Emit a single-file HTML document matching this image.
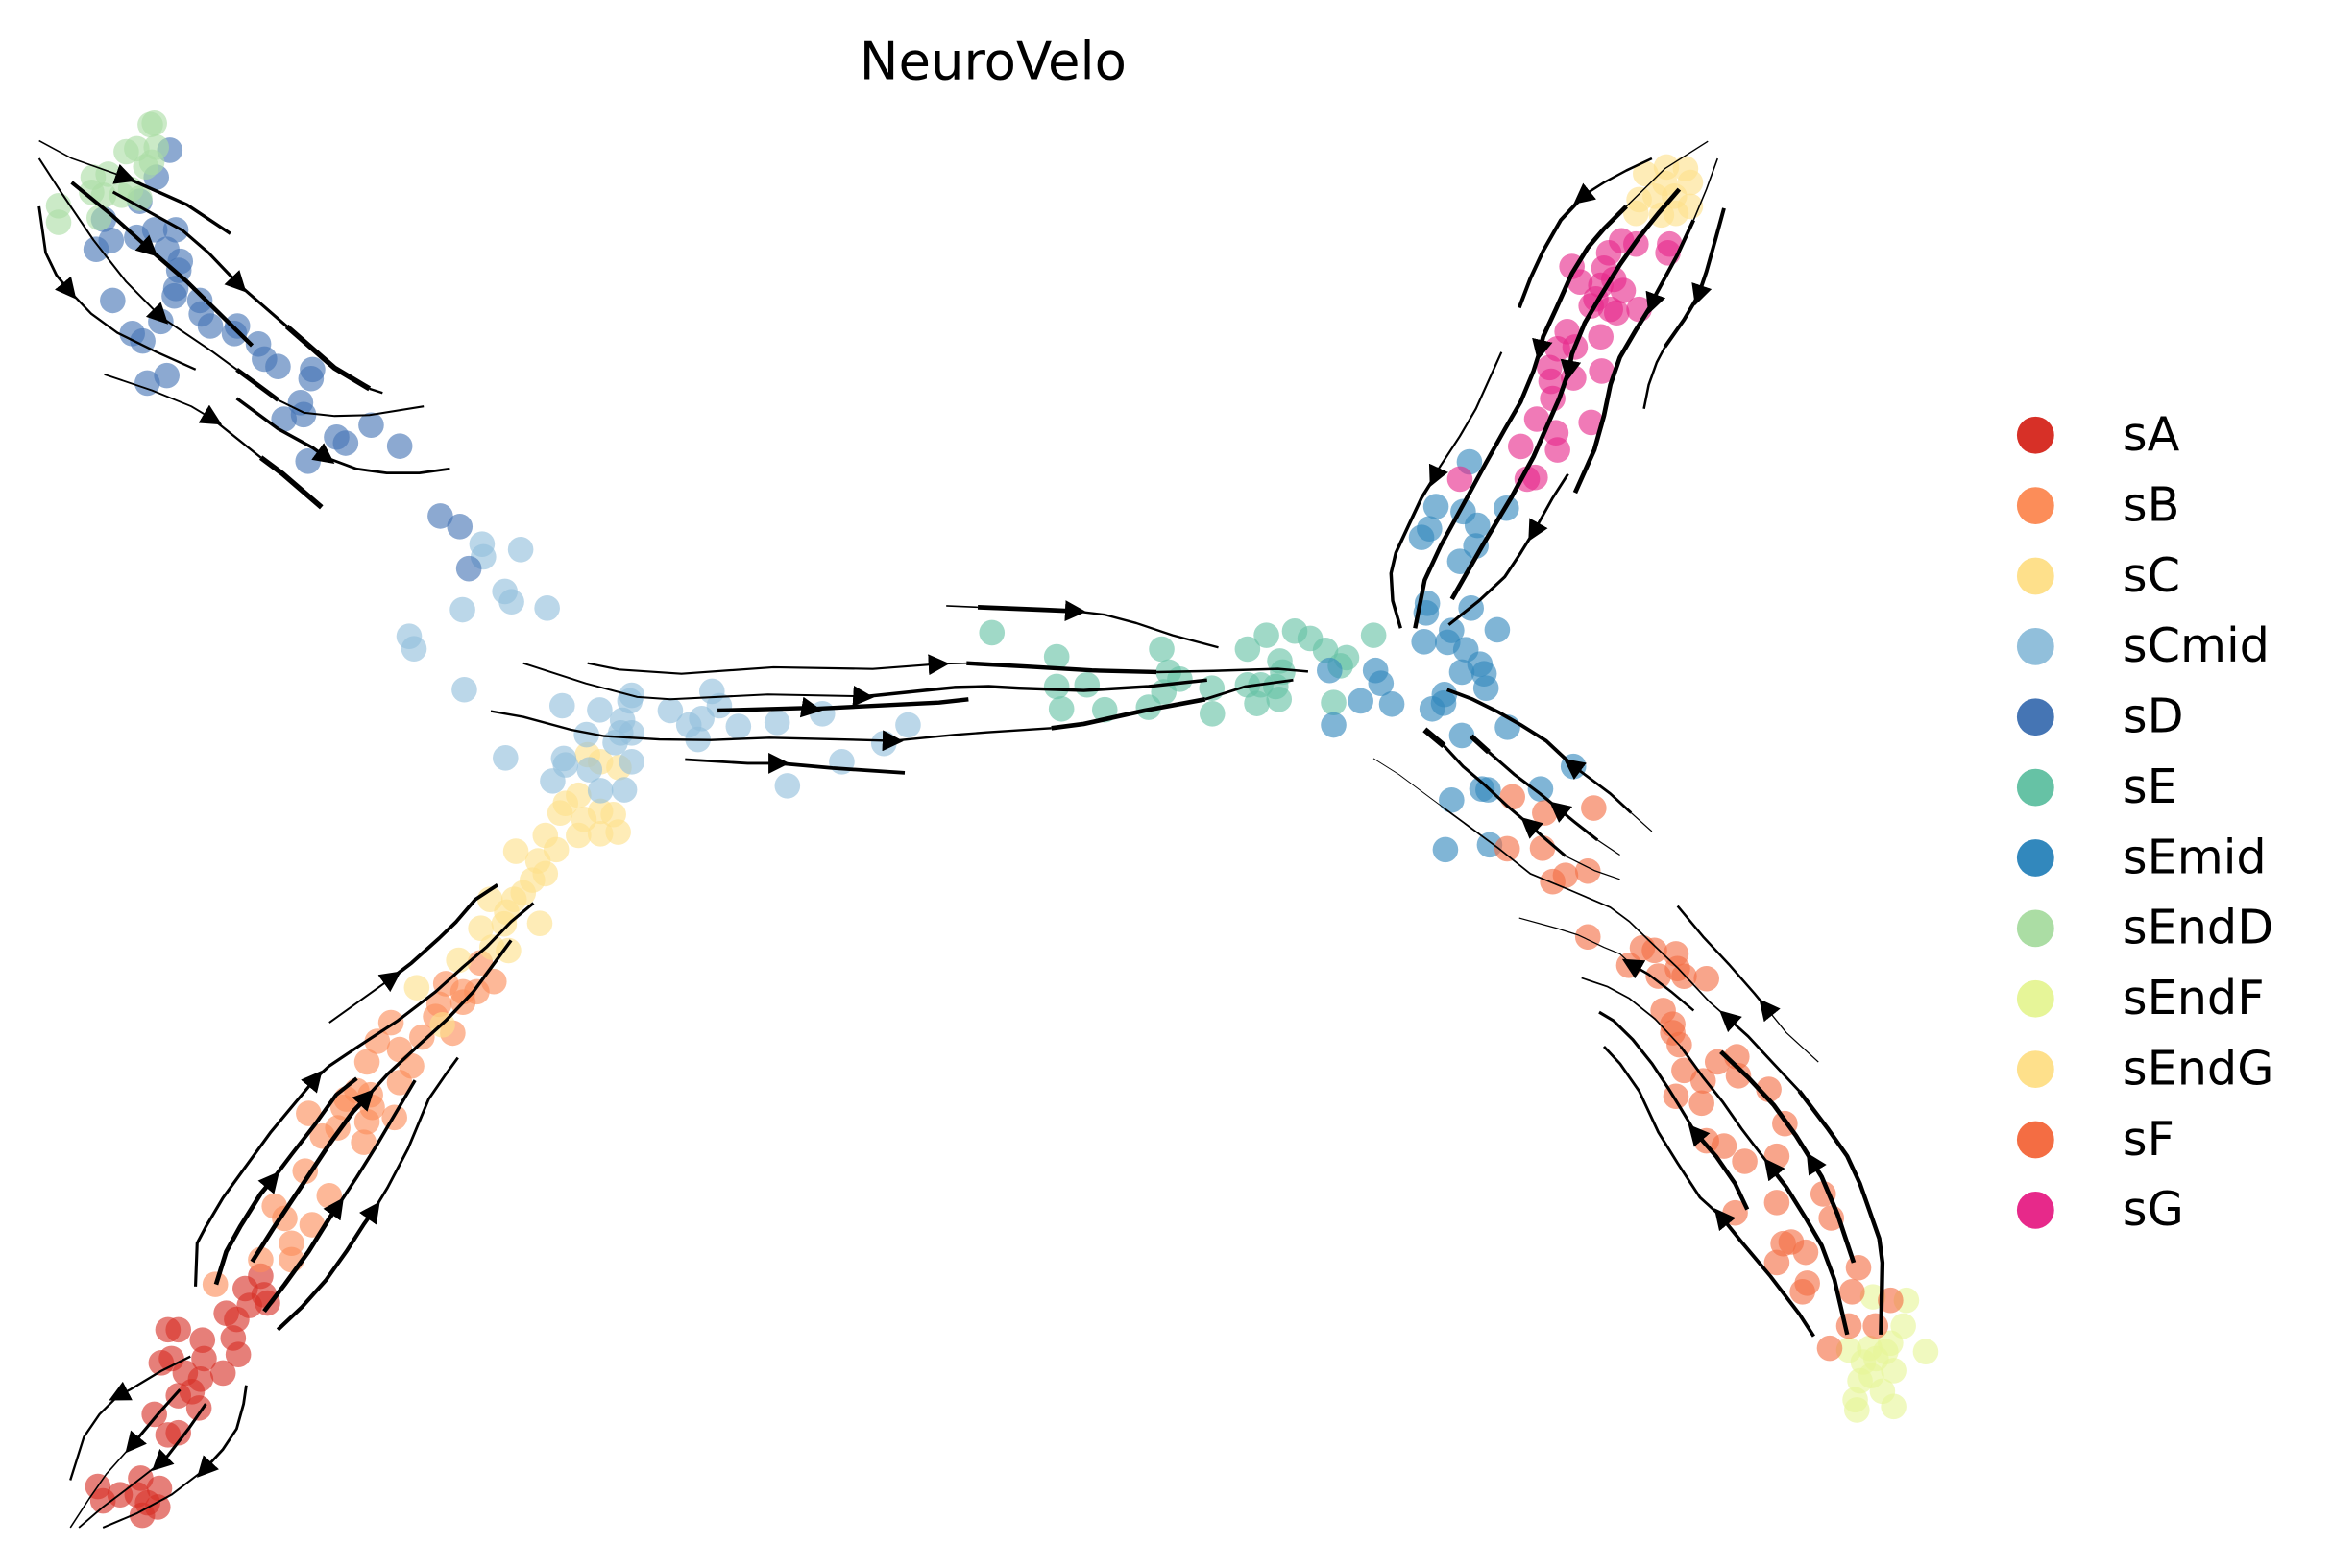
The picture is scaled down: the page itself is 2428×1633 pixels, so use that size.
<!DOCTYPE html>
<html><head><meta charset="utf-8"><style>
html,body{margin:0;padding:0;background:#fff;}
svg{display:block;}
.s path{fill:none;stroke:#000;stroke-linejoin:round;stroke-linecap:butt;}
</style></head><body>
<svg xmlns="http://www.w3.org/2000/svg" width="2428" height="1633" viewBox="0 0 1551.9 1043.8" preserveAspectRatio="none">
<defs><marker id="h" viewBox="0 0 14 14" refX="7" refY="7" markerWidth="14" markerHeight="14" markerUnits="userSpaceOnUse" orient="auto"><path d="M0,0L14,7L0,14z" fill="#000"/></marker></defs>
<rect width="1551.9" height="1043.8" fill="#fff"/>
<text x="660.8" y="52.6" font-family="DejaVu Sans, Liberation Sans, sans-serif" font-size="34.8" text-anchor="middle" fill="#000">NeuroVelo</text>

<!-- sA -->
<g fill="#d73027" fill-opacity="0.62">
<circle cx="175.8" cy="861.9" r="8.5"/><circle cx="178" cy="867.4" r="8.5"/><circle cx="163.2" cy="857.8" r="8.5"/><circle cx="173.5" cy="849.5" r="8.5"/><circle cx="157.5" cy="878.3" r="8.5"/><circle cx="150.6" cy="874.2" r="8.5"/><circle cx="155.2" cy="890.7" r="8.5"/><circle cx="158.6" cy="901.7" r="8.5"/><circle cx="148.4" cy="914" r="8.5"/><circle cx="134.7" cy="892.1" r="8.5"/><circle cx="135.8" cy="904.4" r="8.5"/><circle cx="118.7" cy="885.2" r="8.5"/><circle cx="111.8" cy="885.2" r="8.5"/><circle cx="107.3" cy="907.2" r="8.5"/><circle cx="114.1" cy="904.4" r="8.5"/><circle cx="123.3" cy="914" r="8.5"/><circle cx="133.5" cy="918.1" r="8.5"/><circle cx="127.8" cy="926.4" r="8.5"/><circle cx="118.7" cy="929.1" r="8.5"/><circle cx="132.4" cy="937.3" r="8.5"/><circle cx="102.7" cy="941.5" r="8.5"/><circle cx="111.8" cy="955.2" r="8.5"/><circle cx="118.7" cy="953.8" r="8.5"/><circle cx="65.1" cy="989.5" r="8.5"/><circle cx="68.5" cy="999.1" r="8.5"/><circle cx="79.9" cy="995" r="8.5"/><circle cx="93.6" cy="984" r="8.5"/><circle cx="106.1" cy="990.8" r="8.5"/><circle cx="98.2" cy="1000.4" r="8.5"/><circle cx="91.3" cy="995" r="8.5"/><circle cx="105" cy="1003.2" r="8.5"/><circle cx="94.7" cy="1008.7" r="8.5"/><circle cx="166" cy="869" r="8.5"/>
</g>
<!-- sB -->
<g fill="#fc8d59" fill-opacity="0.62">
<circle cx="143.3" cy="855" r="8.5"/><circle cx="173.5" cy="838.6" r="8.5"/><circle cx="194" cy="838.6" r="8.5"/><circle cx="194" cy="827.6" r="8.5"/><circle cx="189.5" cy="811.1" r="8.5"/><circle cx="207.7" cy="815.3" r="8.5"/><circle cx="182.6" cy="802.9" r="8.5"/><circle cx="219.1" cy="796" r="8.5"/><circle cx="203.1" cy="779.6" r="8.5"/><circle cx="205.4" cy="741.2" r="8.5"/><circle cx="224.8" cy="750.8" r="8.5"/><circle cx="214.6" cy="756.3" r="8.5"/><circle cx="242" cy="760.4" r="8.5"/><circle cx="228.3" cy="737.1" r="8.5"/><circle cx="237.4" cy="726.1" r="8.5"/><circle cx="230.5" cy="731.6" r="8.5"/><circle cx="247.7" cy="737.1" r="8.5"/><circle cx="262.5" cy="743.9" r="8.5"/><circle cx="244.2" cy="746.7" r="8.5"/><circle cx="246.5" cy="728.8" r="8.5"/><circle cx="265.9" cy="698.7" r="8.5"/><circle cx="273.9" cy="709.6" r="8.5"/><circle cx="265.9" cy="720.6" r="8.5"/><circle cx="244.2" cy="706.9" r="8.5"/><circle cx="251.1" cy="693.2" r="8.5"/><circle cx="260.2" cy="680.8" r="8.5"/><circle cx="280.8" cy="690.4" r="8.5"/><circle cx="301.3" cy="687.7" r="8.5"/><circle cx="292.2" cy="668.5" r="8.5"/><circle cx="296.7" cy="654.8" r="8.5"/><circle cx="308.1" cy="660.2" r="8.5"/><circle cx="319.6" cy="641" r="8.5"/><circle cx="328.7" cy="653.4" r="8.5"/><circle cx="289.9" cy="676.7" r="8.5"/><circle cx="308.1" cy="667.1" r="8.5"/><circle cx="317.3" cy="660.2" r="8.5"/>
</g>
<!-- sC -->
<g fill="#fee08b" fill-opacity="0.62">
<circle cx="391" cy="502.4" r="8.5"/><circle cx="399.6" cy="507.1" r="8.5"/><circle cx="411.9" cy="510.9" r="8.5"/><circle cx="385" cy="529.4" r="8.5"/><circle cx="376.3" cy="534.8" r="8.5"/><circle cx="372.7" cy="541.2" r="8.5"/><circle cx="388.6" cy="545.4" r="8.5"/><circle cx="399.6" cy="540.1" r="8.5"/><circle cx="408.2" cy="542.2" r="8.5"/><circle cx="362.9" cy="556.1" r="8.5"/><circle cx="385" cy="556.1" r="8.5"/><circle cx="399.6" cy="555" r="8.5"/><circle cx="411.4" cy="553.9" r="8.5"/><circle cx="343.3" cy="566.7" r="8.5"/><circle cx="370.2" cy="565.6" r="8.5"/><circle cx="358" cy="573.1" r="8.5"/><circle cx="362.9" cy="581.6" r="8.5"/><circle cx="354.3" cy="585.9" r="8.5"/><circle cx="348.2" cy="594.4" r="8.5"/><circle cx="342.1" cy="598.7" r="8.5"/><circle cx="326.1" cy="598.7" r="8.5"/><circle cx="337.2" cy="607.2" r="8.5"/><circle cx="359.2" cy="614.7" r="8.5"/><circle cx="320" cy="617.9" r="8.5"/><circle cx="338.4" cy="632.8" r="8.5"/><circle cx="327.4" cy="630.6" r="8.5"/><circle cx="305.3" cy="639.2" r="8.5"/><circle cx="277.3" cy="657.5" r="8.5"/><circle cx="294.4" cy="682.2" r="8.5"/><circle cx="335.5" cy="615" r="8.5"/>
</g>
<!-- sCmid -->
<g fill="#91bfdb" fill-opacity="0.62">
<circle cx="320.8" cy="362.2" r="8.5"/><circle cx="321.7" cy="370.7" r="8.5"/><circle cx="346.5" cy="365.8" r="8.5"/><circle cx="336" cy="393.7" r="8.5"/><circle cx="340.4" cy="400.6" r="8.5"/><circle cx="364.1" cy="404.8" r="8.5"/><circle cx="307.8" cy="405.9" r="8.5"/><circle cx="272.3" cy="423.6" r="8.5"/><circle cx="275.5" cy="431.9" r="8.5"/><circle cx="309" cy="459.1" r="8.5"/><circle cx="374.1" cy="469.8" r="8.5"/><circle cx="336.4" cy="504.5" r="8.5"/><circle cx="420.4" cy="462.8" r="8.5"/><circle cx="419.2" cy="466.6" r="8.5"/><circle cx="399.1" cy="472.6" r="8.5"/><circle cx="390.3" cy="489" r="8.5"/><circle cx="414.3" cy="479.4" r="8.5"/><circle cx="413.1" cy="487.9" r="8.5"/><circle cx="420.4" cy="487.9" r="8.5"/><circle cx="409.4" cy="494.3" r="8.5"/><circle cx="420.4" cy="507.1" r="8.5"/><circle cx="375.1" cy="504.9" r="8.5"/><circle cx="376.3" cy="509.2" r="8.5"/><circle cx="367.8" cy="519.9" r="8.5"/><circle cx="392.3" cy="512.4" r="8.5"/><circle cx="415.5" cy="525.8" r="8.5"/><circle cx="399.6" cy="526.3" r="8.5"/><circle cx="473.8" cy="460.2" r="8.5"/><circle cx="478.7" cy="469.8" r="8.5"/><circle cx="446.1" cy="473" r="8.5"/><circle cx="467" cy="478.3" r="8.5"/><circle cx="458.4" cy="482.6" r="8.5"/><circle cx="464.5" cy="492.2" r="8.5"/><circle cx="491.4" cy="483.6" r="8.5"/><circle cx="517.2" cy="480.9" r="8.5"/><circle cx="547.3" cy="475.1" r="8.5"/><circle cx="604.3" cy="482.6" r="8.5"/><circle cx="588.2" cy="494.9" r="8.5"/><circle cx="560.2" cy="507.1" r="8.5"/><circle cx="524" cy="523.1" r="8.5"/>
</g>
<!-- sD -->
<g fill="#4575b4" fill-opacity="0.62">
<circle cx="113" cy="100" r="8.5"/><circle cx="104" cy="118" r="8.5"/><circle cx="93" cy="134" r="8.5"/><circle cx="69" cy="146" r="8.5"/><circle cx="74" cy="160" r="8.5"/><circle cx="64" cy="166" r="8.5"/><circle cx="91" cy="158" r="8.5"/><circle cx="103" cy="153" r="8.5"/><circle cx="117" cy="153" r="8.5"/><circle cx="111" cy="166" r="8.5"/><circle cx="120" cy="174" r="8.5"/><circle cx="119" cy="180" r="8.5"/><circle cx="117" cy="192" r="8.5"/><circle cx="116" cy="197" r="8.5"/><circle cx="133" cy="200" r="8.5"/><circle cx="134" cy="209" r="8.5"/><circle cx="140" cy="217" r="8.5"/><circle cx="158" cy="217" r="8.5"/><circle cx="156" cy="222" r="8.5"/><circle cx="172" cy="229" r="8.5"/><circle cx="176" cy="239" r="8.5"/><circle cx="185" cy="244" r="8.5"/><circle cx="208" cy="246" r="8.5"/><circle cx="207" cy="252" r="8.5"/><circle cx="200" cy="268" r="8.5"/><circle cx="202" cy="276" r="8.5"/><circle cx="189" cy="279" r="8.5"/><circle cx="224" cy="291" r="8.5"/><circle cx="230" cy="295" r="8.5"/><circle cx="247" cy="283" r="8.5"/><circle cx="266" cy="297" r="8.5"/><circle cx="205" cy="307" r="8.5"/><circle cx="75" cy="200" r="8.5"/><circle cx="88" cy="222" r="8.5"/><circle cx="95" cy="227" r="8.5"/><circle cx="107" cy="214" r="8.5"/><circle cx="98" cy="255" r="8.5"/><circle cx="111" cy="250" r="8.5"/><circle cx="293" cy="343.5" r="8.5"/><circle cx="306" cy="350.5" r="8.5"/><circle cx="312" cy="378.5" r="8.5"/>
</g>
<!-- sE -->
<g fill="#66c2a5" fill-opacity="0.62">
<circle cx="660.1" cy="421.2" r="8.5"/><circle cx="703.2" cy="437.2" r="8.5"/><circle cx="703.2" cy="457" r="8.5"/><circle cx="723.4" cy="455.9" r="8.5"/><circle cx="706.4" cy="471.9" r="8.5"/><circle cx="735.2" cy="472.5" r="8.5"/><circle cx="773.1" cy="432.1" r="8.5"/><circle cx="777.7" cy="447.4" r="8.5"/><circle cx="785.2" cy="452.1" r="8.5"/><circle cx="774.5" cy="460.6" r="8.5"/><circle cx="764.3" cy="470.8" r="8.5"/><circle cx="806.5" cy="458.1" r="8.5"/><circle cx="806.8" cy="475.1" r="8.5"/><circle cx="830.2" cy="432.1" r="8.5"/><circle cx="842.8" cy="422.9" r="8.5"/><circle cx="851.7" cy="440" r="8.5"/><circle cx="853.6" cy="447.4" r="8.5"/><circle cx="830.2" cy="455.9" r="8.5"/><circle cx="839" cy="455.9" r="8.5"/><circle cx="849" cy="457" r="8.5"/><circle cx="836.4" cy="468.3" r="8.5"/><circle cx="851.2" cy="465.5" r="8.5"/><circle cx="861.6" cy="420.1" r="8.5"/><circle cx="871.9" cy="425" r="8.5"/><circle cx="882.1" cy="432.9" r="8.5"/><circle cx="896.1" cy="437.8" r="8.5"/><circle cx="892" cy="443.2" r="8.5"/><circle cx="887.5" cy="467.7" r="8.5"/><circle cx="914.1" cy="422.9" r="8.5"/>
</g>
<!-- sEmid -->
<g fill="#3288bd" fill-opacity="0.62">
<circle cx="884.8" cy="446.3" r="8.5"/><circle cx="915.4" cy="446.3" r="8.5"/><circle cx="919" cy="454.9" r="8.5"/><circle cx="905.5" cy="466.6" r="8.5"/><circle cx="926.2" cy="468.7" r="8.5"/><circle cx="887.5" cy="482.6" r="8.5"/><circle cx="949.9" cy="401.6" r="8.5"/><circle cx="949.1" cy="408" r="8.5"/><circle cx="979" cy="404.8" r="8.5"/><circle cx="996.4" cy="419.3" r="8.5"/><circle cx="947.7" cy="427.2" r="8.5"/><circle cx="966" cy="419.7" r="8.5"/><circle cx="963.4" cy="427.6" r="8.5"/><circle cx="975.5" cy="432.5" r="8.5"/><circle cx="972.8" cy="447.4" r="8.5"/><circle cx="984.9" cy="442.1" r="8.5"/><circle cx="987.6" cy="448.5" r="8.5"/><circle cx="988.9" cy="458.1" r="8.5"/><circle cx="961.2" cy="462.3" r="8.5"/><circle cx="953.1" cy="471.9" r="8.5"/><circle cx="1003.2" cy="484.1" r="8.5"/><circle cx="972.8" cy="489.6" r="8.5"/><circle cx="960.7" cy="468.1" r="8.5"/><circle cx="966" cy="532.6" r="8.5"/><circle cx="986.2" cy="525.2" r="8.5"/><circle cx="990.3" cy="525.8" r="8.5"/><circle cx="1025.2" cy="525.2" r="8.5"/><circle cx="977.9" cy="307.5" r="8.5"/><circle cx="955.6" cy="337.2" r="8.5"/><circle cx="951.3" cy="352" r="8.5"/><circle cx="946" cy="357.7" r="8.5"/><circle cx="973.7" cy="340.6" r="8.5"/><circle cx="983.2" cy="349.7" r="8.5"/><circle cx="982.2" cy="363.4" r="8.5"/><circle cx="971.5" cy="373.7" r="8.5"/><circle cx="1002.4" cy="338.3" r="8.5"/><circle cx="1047.1" cy="510.2" r="8.5"/><circle cx="961.9" cy="565.6" r="8.5"/><circle cx="991.3" cy="562.4" r="8.5"/>
</g>
<!-- sEndD -->
<g fill="#abdda4" fill-opacity="0.62">
<circle cx="102.7" cy="82" r="8.5"/><circle cx="100" cy="83" r="8.5"/><circle cx="84" cy="101" r="8.5"/><circle cx="91" cy="99" r="8.5"/><circle cx="104" cy="98" r="8.5"/><circle cx="101" cy="108" r="8.5"/><circle cx="62" cy="118" r="8.5"/><circle cx="72" cy="116" r="8.5"/><circle cx="61" cy="128" r="8.5"/><circle cx="69" cy="130" r="8.5"/><circle cx="93" cy="132" r="8.5"/><circle cx="81" cy="130" r="8.5"/><circle cx="39" cy="137" r="8.5"/><circle cx="39" cy="148" r="8.5"/><circle cx="66" cy="145" r="8.5"/><circle cx="87" cy="126" r="8.5"/><circle cx="97" cy="111" r="8.5"/>
</g>
<!-- sEndF -->
<g fill="#e6f598" fill-opacity="0.62">
<circle cx="1246.4" cy="863.3" r="8.5"/><circle cx="1268.7" cy="865.6" r="8.5"/><circle cx="1266.6" cy="882.7" r="8.5"/><circle cx="1258.1" cy="894.1" r="8.5"/><circle cx="1230.4" cy="898.7" r="8.5"/><circle cx="1240" cy="906.7" r="8.5"/><circle cx="1248.5" cy="904.4" r="8.5"/><circle cx="1260.2" cy="912.4" r="8.5"/><circle cx="1245.3" cy="915.8" r="8.5"/><circle cx="1237.8" cy="919.2" r="8.5"/><circle cx="1281.5" cy="899.8" r="8.5"/><circle cx="1234.6" cy="931.8" r="8.5"/><circle cx="1252.7" cy="926.1" r="8.5"/><circle cx="1260.2" cy="936.3" r="8.5"/><circle cx="1235.7" cy="938.6" r="8.5"/><circle cx="1254.9" cy="899.8" r="8.5"/><circle cx="1244.2" cy="897.5" r="8.5"/>
</g>
<!-- sEndG -->
<g fill="#fee08b" fill-opacity="0.62">
<circle cx="1109" cy="111.2" r="8.5"/><circle cx="1095.1" cy="115.7" r="8.5"/><circle cx="1121.7" cy="112.3" r="8.5"/><circle cx="1124.9" cy="121.5" r="8.5"/><circle cx="1090.8" cy="132.9" r="8.5"/><circle cx="1101.5" cy="130.6" r="8.5"/><circle cx="1114.3" cy="130.6" r="8.5"/><circle cx="1124.9" cy="137.4" r="8.5"/><circle cx="1088.7" cy="142" r="8.5"/><circle cx="1105.7" cy="143.1" r="8.5"/><circle cx="1115.3" cy="142" r="8.5"/><circle cx="1108" cy="122" r="8.5"/>
</g>
<!-- sF -->
<g fill="#f46d43" fill-opacity="0.62">
<circle cx="1006.5" cy="530.5" r="8.5"/><circle cx="1028" cy="541.1" r="8.5"/><circle cx="1060.6" cy="537.9" r="8.5"/><circle cx="1003" cy="565" r="8.5"/><circle cx="1026.5" cy="564.6" r="8.5"/><circle cx="1041.8" cy="582.7" r="8.5"/><circle cx="1033.3" cy="586.9" r="8.5"/><circle cx="1056.7" cy="579.9" r="8.5"/><circle cx="1056.7" cy="623.7" r="8.5"/><circle cx="1093" cy="631" r="8.5"/><circle cx="1101" cy="632.7" r="8.5"/><circle cx="1115.3" cy="635" r="8.5"/><circle cx="1084" cy="642.6" r="8.5"/><circle cx="1116.3" cy="644.8" r="8.5"/><circle cx="1135.6" cy="651.5" r="8.5"/><circle cx="1103.6" cy="649.8" r="8.5"/><circle cx="1120.7" cy="649.9" r="8.5"/><circle cx="1106.8" cy="672.7" r="8.5"/><circle cx="1113.2" cy="681.8" r="8.5"/><circle cx="1113.2" cy="687.5" r="8.5"/><circle cx="1117.5" cy="695.5" r="8.5"/><circle cx="1120.7" cy="712.6" r="8.5"/><circle cx="1133.4" cy="719.5" r="8.5"/><circle cx="1115.3" cy="729.8" r="8.5"/><circle cx="1132.4" cy="734.3" r="8.5"/><circle cx="1155.8" cy="703.5" r="8.5"/><circle cx="1143" cy="706.9" r="8.5"/><circle cx="1156.9" cy="716.1" r="8.5"/><circle cx="1177.1" cy="725.2" r="8.5"/><circle cx="1187.8" cy="748" r="8.5"/><circle cx="1135.6" cy="759.4" r="8.5"/><circle cx="1147.3" cy="762.9" r="8.5"/><circle cx="1161.1" cy="773.1" r="8.5"/><circle cx="1182.4" cy="769.7" r="8.5"/><circle cx="1182.4" cy="800.5" r="8.5"/><circle cx="1213.3" cy="794.8" r="8.5"/><circle cx="1218.7" cy="810.8" r="8.5"/><circle cx="1154.7" cy="807.4" r="8.5"/><circle cx="1186.7" cy="827.9" r="8.5"/><circle cx="1192" cy="826.8" r="8.5"/><circle cx="1201.6" cy="833.6" r="8.5"/><circle cx="1182.4" cy="840.5" r="8.5"/><circle cx="1202.7" cy="854.2" r="8.5"/><circle cx="1199.5" cy="859.9" r="8.5"/><circle cx="1236.8" cy="843.9" r="8.5"/><circle cx="1232.5" cy="859.9" r="8.5"/><circle cx="1230.4" cy="882.7" r="8.5"/><circle cx="1217.6" cy="897.5" r="8.5"/><circle cx="1258.1" cy="865.6" r="8.5"/><circle cx="1248.1" cy="882.7" r="8.5"/>
</g>
<!-- sG -->
<g fill="#e7298a" fill-opacity="0.62">
<circle cx="1079.1" cy="160.3" r="8.5"/><circle cx="1088.7" cy="162.5" r="8.5"/><circle cx="1111.1" cy="162.5" r="8.5"/><circle cx="1110" cy="168.3" r="8.5"/><circle cx="1070.6" cy="168.3" r="8.5"/><circle cx="1046.1" cy="177.4" r="8.5"/><circle cx="1067.4" cy="178.5" r="8.5"/><circle cx="1051.4" cy="187.7" r="8.5"/><circle cx="1065.3" cy="189.9" r="8.5"/><circle cx="1080.2" cy="193.4" r="8.5"/><circle cx="1058.9" cy="203.6" r="8.5"/><circle cx="1071.7" cy="205.9" r="8.5"/><circle cx="1075.9" cy="208.2" r="8.5"/><circle cx="1090.8" cy="205.9" r="8.5"/><circle cx="1042.9" cy="220.7" r="8.5"/><circle cx="1065.3" cy="224.2" r="8.5"/><circle cx="1036.5" cy="232.2" r="8.5"/><circle cx="1048.2" cy="231" r="8.5"/><circle cx="1031.2" cy="244.7" r="8.5"/><circle cx="1047.2" cy="251.6" r="8.5"/><circle cx="1065.9" cy="247" r="8.5"/><circle cx="1032.2" cy="253.8" r="8.5"/><circle cx="1033.3" cy="265.3" r="8.5"/><circle cx="1022.7" cy="279" r="8.5"/><circle cx="1035.4" cy="288.1" r="8.5"/><circle cx="1036.5" cy="299.5" r="8.5"/><circle cx="1012" cy="297.2" r="8.5"/><circle cx="1058.9" cy="281.2" r="8.5"/><circle cx="1016.3" cy="318.9" r="8.5"/><circle cx="1021.6" cy="317.8" r="8.5"/><circle cx="971.5" cy="318.9" r="8.5"/><circle cx="1074" cy="186" r="8.5"/><circle cx="1062" cy="199" r="8.5"/>
</g>

<!-- streamlines -->
<g class="s">
<!-- top-left -->
<path d="M26,93.7L47.7,105.4L83.9,118.2" stroke-width="1" marker-end="url(#h)"/>
<path d="M83.9,118.2L124.4,136.3L153.3,155.5" stroke-width="2.2"/>
<path d="M26,105.4L40.5,127.8L62.2,159.8L83.9,187.5L107,210.9" stroke-width="1.3" marker-end="url(#h)"/>
<path d="M107,210.9L141.7,234.3L157.6,246" stroke-width="1.3"/>
<path d="M157.6,246L185.1,266.3" stroke-width="3"/>
<path d="M185.1,266.3L202.5,274.8L222.7,276.9L245.9,276.3L282,270.5" stroke-width="1.3"/>
<path d="M47.7,121.4L73.8,142.7L99.8,166.2" stroke-width="2.5" marker-end="url(#h)"/>
<path d="M99.8,166.2L124.4,187.5L167.8,230.1" stroke-width="2.8"/>
<path d="M75.2,127.8L121.5,153.4L138.8,168.3L159.1,189.6" stroke-width="2" marker-end="url(#h)"/>
<path d="M159.1,189.6L190.9,217.3" stroke-width="2"/>
<path d="M190.9,217.3L222.7,245L245.9,258.8" stroke-width="3.5"/>
<path d="M245.9,258.8L254.6,261.6" stroke-width="1.5"/>
<path d="M26,137.4L30.4,168.3L37.6,183.2L46.3,193.8" stroke-width="1.8" marker-end="url(#h)"/>
<path d="M46.3,193.8L60.7,208.8L78.1,221.5L104.1,234.3L130.2,246" stroke-width="1.5"/>
<path d="M69.4,249.2L101.2,259.9L127.3,270.5L141.7,279.1" stroke-width="1.2" marker-end="url(#h)"/>
<path d="M141.7,279.1L173.6,304.6" stroke-width="1.5"/>
<path d="M173.6,304.6L188,315.3L214,337.7" stroke-width="3.5"/>
<path d="M157.6,265.2L185.1,285.5L208.3,298.2L217,304.6" stroke-width="2.2" marker-end="url(#h)"/>
<path d="M217,304.6L237.2,312.1L257.4,314.9L279.1,314.9L299.4,312.1" stroke-width="1.8"/>
<!-- center -->
<path d="M391,441.5L411.9,445.7L453.5,448.5L514.7,444.2L580.8,445.3L617.5,442.5L624.9,442.1" stroke-width="1.4" marker-end="url(#h)"/>
<path d="M624.9,442.1L643.2,441.5" stroke-width="1"/>
<path d="M643.2,441.5L684.9,443.8L726.6,446.3L769.6,447.4" stroke-width="2.8"/>
<path d="M769.6,447.4L807.3,446.6L850.4,445.3L870.5,447" stroke-width="1.6"/>
<path d="M348.2,441.5L389.8,454.9L424.1,464L446.1,465.5L511,462.3L568.5,463.4L574.7,463.8" stroke-width="1.3" marker-end="url(#h)"/>
<path d="M574.7,463.8L620,459.1L635.1,457.6L658,457L678.2,458.1L721.2,459.6L764.3,457L803.3,452.7" stroke-width="2.2"/>
<path d="M477.5,473L536.7,471.3L540.4,471.9" stroke-width="2.8" marker-end="url(#h)"/>
<path d="M540.4,471.9L624.9,467.7L644.5,465.5" stroke-width="2.8"/>
<path d="M326.6,473.4L348.2,477.2L380,485.8L402.1,490L438.8,492.2L473.1,492.6L512.2,491.1L558.8,492.2L594.3,493.2" stroke-width="1.5" marker-end="url(#h)"/>
<path d="M594.3,493.2L626.8,490L635.1,489.2L656.6,487.5L699.7,484.7" stroke-width="1.5"/>
<path d="M699.7,484.7L721.2,481.9L761.6,473L802,465.5" stroke-width="3"/>
<path d="M802,465.5L828.8,457L860.6,452.7" stroke-width="1.8"/>
<path d="M455.9,505.6L497.6,508.1L518.4,508.1" stroke-width="1.8" marker-end="url(#h)"/>
<path d="M518.4,508.1L553.9,511.3L602.1,514.5" stroke-width="2.4"/>
<path d="M629.7,403.3L650.7,404.2" stroke-width="1"/>
<path d="M650.7,404.2L693,405.9L715.8,406.9" stroke-width="3" marker-end="url(#h)"/>
<path d="M715.8,406.9L734.7,409.1L756.2,414.8L780.4,422.9L810.8,431" stroke-width="1.5"/>
<!-- upper right -->
<path d="M1099.3,105.5L1082.3,113.5L1067.4,121.5L1056.7,128.3L1052.5,131.7" stroke-width="1.6" marker-end="url(#h)"/>
<path d="M1052.5,131.7L1038.6,146.6L1026.9,167.1L1018.4,185.4L1011,204.8" stroke-width="2.5"/>
<path d="M1136.6,94.1L1107.9,112.3L1082.3,137.4" stroke-width="0.9"/>
<path d="M1082.3,137.4L1067.4,152.3L1056.7,164.8L1046.1,182L1035.4,205.9L1026.9,224.2L1024.8,233.3" stroke-width="3" marker-end="url(#h)"/>
<path d="M1024.8,233.3L1020.5,247L1012,267.5L1001.4,285.8L988.6,308.6L973.7,336L958.7,363.4L948.1,386.2L941.7,418.2" stroke-width="2.8"/>
<path d="M1117.5,126L1103.6,142L1090.8,158L1078,176.2L1065.3,196.8L1054.6,215L1046.1,235.6L1044,247" stroke-width="3" marker-end="url(#h)"/>
<path d="M1044,247L1037.6,265.3L1020.5,304.1L1005.6,331.4L986.4,363.4L966.2,398.8" stroke-width="3"/>
<path d="M1143,105.5L1135.6,126L1127,146.6" stroke-width="1"/>
<path d="M1127,146.6L1116.4,169.4L1101.5,196.8L1099.4,202.5" stroke-width="2.5" marker-end="url(#h)"/>
<path d="M1099.4,202.5L1088.7,219.6L1078,237.9L1071.7,256.1L1067.4,276.7L1061,299.5L1048.2,328" stroke-width="3"/>
<path d="M1147.3,138.6L1142,158L1135.6,180.8L1130.2,196.8" stroke-width="2.5" marker-end="url(#h)"/>
<path d="M1130.2,196.8L1120.7,212.8L1107.9,231" stroke-width="2.5"/>
<path d="M1107.9,231L1102.5,241.3L1097.2,256.1L1094,272.1" stroke-width="1.6"/>
<path d="M999.2,234.4L982.2,272.1L971.5,290.4L956.6,313.2L954.5,317.8" stroke-width="1.4" marker-end="url(#h)"/>
<path d="M954.5,317.8L946,331.4L937.4,349.7L928.9,368L925.7,381.7L926.8,399.9L932.1,418.2" stroke-width="2.2"/>
<path d="M1043.5,315.5L1033.3,331.4L1020.5,354.3" stroke-width="1.8" marker-end="url(#h)"/>
<path d="M1020.5,354.3L1012,368L1001.4,384L984.3,399.9L964.1,415.9" stroke-width="2"/>
<!-- right middle -->
<path d="M1099.3,553.5L1085.5,541.1" stroke-width="0.8"/>
<path d="M1085.5,541.1L1071.6,528.3L1046.1,509.2" stroke-width="1.8" marker-end="url(#h)"/>
<path d="M1046.1,509.2L1029,493.2L1012,482.5L997.1,474L980,465.5L963,459.1" stroke-width="2.4"/>
<path d="M1078,585.4L1061,579.5L1041.8,569.9" stroke-width="0.8"/>
<path d="M1041.8,569.9L1026.9,557.1L1017.3,548.6" stroke-width="2" marker-end="url(#h)"/>
<path d="M1017.3,548.6L1003.5,536.9L988.6,523L973.6,510.2L960.9,496.4" stroke-width="2"/>
<path d="M960.9,496.4L948.1,485.7" stroke-width="4"/>
<path d="M1078,569.2L1063.1,559.2" stroke-width="0.8"/>
<path d="M1063.1,559.2L1048.2,547.5L1036.5,537.9" stroke-width="2" marker-end="url(#h)"/>
<path d="M1036.5,537.9L1024.8,528.3L1007.7,515.5L990.7,500.6" stroke-width="2"/>
<path d="M990.7,500.6L979,490" stroke-width="3.5"/>
<path d="M1251.7,888.4L1252.7,840.5L1250.6,824.5L1244.2,806.2L1237.8,788L1229.3,769.7L1216.5,751.5L1197.4,726.3" stroke-width="2.8"/>
<path d="M1197.4,726.3L1180.3,708.1L1163.3,689.8L1149.4,677.3" stroke-width="1.8" marker-end="url(#h)"/>
<path d="M1149.4,677.3L1137.7,667L1116.4,644.2L1097.2,625.9L1084.4,613.5L1071.6,604L1044,592.2L1018.4,581.6L997.1,564.6L960.9,537.9" stroke-width="1.1"/>
<path d="M960.9,537.9L931,515.6L914,504.9" stroke-width="0.6"/>
<path d="M1127.1,672.7L1112.1,660.1L1097.2,648.7L1085.5,641.9" stroke-width="1.6" marker-end="url(#h)"/>
<path d="M1085.5,641.9L1078.1,635L1067.4,630.6L1050.4,622.5L1035.4,617.8L1011,611.1" stroke-width="0.8"/>
<path d="M1210.1,707L1188.8,687.5L1175,670.4" stroke-width="0.8" marker-end="url(#h)"/>
<path d="M1175,670.4L1167.5,661.3L1150.5,641.9L1133.4,623.6L1116.4,603.1" stroke-width="1.6"/>
<!-- lower right -->
<path d="M1229.3,888.4L1220.8,851.9L1212.3,829.1L1201.6,810.8L1188.8,790.3L1178.2,776.6" stroke-width="2.8" marker-end="url(#h)"/>
<path d="M1178.2,776.6L1159,751.5L1146.2,733.2L1133.4,717.2L1118.5,696.7" stroke-width="1.8"/>
<path d="M1118.5,696.7L1101.5,678.4L1084.4,664.7L1069.5,656.7L1052.5,651" stroke-width="1.1"/>
<path d="M1233.6,840.5L1222.9,808.5L1212.3,783.4L1205.9,773.1" stroke-width="3" marker-end="url(#h)"/>
<path d="M1205.9,773.1L1195.2,756L1180.3,735.5L1163.3,717.2L1145.2,700.1" stroke-width="3"/>
<path d="M1162.8,805.1L1154.7,788L1142,769.7L1128.1,753.7" stroke-width="2.8" marker-end="url(#h)"/>
<path d="M1128.1,753.7L1118.5,737.8L1110,724.1L1099.4,708.1L1086.6,692.1L1073.8,679.5L1064.2,673.8" stroke-width="2"/>
<path d="M1207,889.5L1197.4,874.7L1178.2,849.6L1159,826.8L1145.2,809.7" stroke-width="2.4" marker-end="url(#h)"/>
<path d="M1145.2,809.7L1131.3,797.1L1116.4,774.3L1103.6,753.7L1090.8,726.3L1078.1,708.1L1067.4,696.7" stroke-width="1.8"/>
<!-- bottom left -->
<path d="M219.1,680.8L242,664.4L261.3,650.6" stroke-width="1.3" marker-end="url(#h)"/>
<path d="M261.3,650.6L273.9,641L292.2,624.6L303.6,613.6L316.4,598.7L331.1,589.1" stroke-width="2.4"/>
<path d="M130.1,856.4L131.2,827.6L137,816.6L148.4,797.4L164.3,775.5L180.3,753.5L196.3,734.3L210,717.9" stroke-width="2" marker-end="url(#h)"/>
<path d="M210,717.9L219.1,709.6L237.4,697.3L264.8,679.4L289.9,660.2L308.1,643.8L324.1,630.1L340.1,613.6L355,601.2" stroke-width="2"/>
<path d="M143.8,855L150.6,833.1L159.8,816.6L173.5,794.7L181.5,785.1" stroke-width="3" marker-end="url(#h)"/>
<path d="M181.5,785.1L194,768.6L210,748L223.7,728.8L237.4,717.9" stroke-width="2.6"/>
<path d="M167.8,839.9L182.6,816.6L200.9,789.2L219.1,761.7L235.1,739.8L244.2,730.2" stroke-width="3" marker-end="url(#h)"/>
<path d="M244.2,730.2L257.9,715.1L278.5,695.9L296.7,679.4L315,660.2L340.1,626" stroke-width="2.2"/>
<path d="M175.8,872.9L189.5,855L205.4,833.1L219.1,811.1L224.8,802.9" stroke-width="3" marker-end="url(#h)"/>
<path d="M224.8,802.9L237.4,783.7L251.1,761.7L264.8,738.4L276.2,719.2" stroke-width="2.2"/>
<path d="M184.9,885.2L200.9,870.1L216.8,852.3L230.5,833.1L242,815.2L248.8,805.6" stroke-width="2.6" marker-end="url(#h)"/>
<path d="M248.8,805.6L257.9,790.6L271.6,764.5L285.3,731.6L296.7,715.1L304.7,704.1" stroke-width="1.8"/>
<path d="M126.7,903L107.3,912.6L86.7,925L78.7,929.1" stroke-width="1.5" marker-end="url(#h)"/>
<path d="M78.7,929.1L66.2,941.5L55.9,956.5L46.8,985.3" stroke-width="1.5"/>
<path d="M119.8,925L105,941.5L87.9,962" stroke-width="2" marker-end="url(#h)"/>
<path d="M87.9,962L70.8,981.2L59.3,997.7L46.8,1016.9" stroke-width="1"/>
<path d="M137,934.6L125.5,951.1L111.8,968.9L106.1,974.4" stroke-width="2" marker-end="url(#h)"/>
<path d="M106.1,974.4L86.7,989.5L68.5,1003.2L52.5,1016.9" stroke-width="1.2"/>
<path d="M163.9,922.2L162.1,934.6L157.5,951.1L148.4,964.8L135.8,978.5" stroke-width="1.8" marker-end="url(#h)"/>
<path d="M135.8,978.5L114.1,995L91.3,1007.3L68.5,1016.9" stroke-width="1.3"/>
</g>

<!-- legend -->
<g font-family="DejaVu Sans, Liberation Sans, sans-serif" font-size="31.5" fill="#000">
<circle cx="1354.6" cy="289.7" r="12.4" fill="#d73027"/><text x="1412.5" y="299.8">sA</text>
<circle cx="1354.6" cy="336.6" r="12.4" fill="#fc8d59"/><text x="1412.5" y="346.7">sB</text>
<circle cx="1354.6" cy="383.5" r="12.4" fill="#fee08b"/><text x="1412.5" y="393.6">sC</text>
<circle cx="1354.6" cy="430.4" r="12.4" fill="#91bfdb"/><text x="1412.5" y="440.5">sCmid</text>
<circle cx="1354.6" cy="477.3" r="12.4" fill="#4575b4"/><text x="1412.5" y="487.4">sD</text>
<circle cx="1354.6" cy="524.2" r="12.4" fill="#66c2a5"/><text x="1412.5" y="534.3">sE</text>
<circle cx="1354.6" cy="571.1" r="12.4" fill="#3288bd"/><text x="1412.5" y="581.2">sEmid</text>
<circle cx="1354.6" cy="618" r="12.4" fill="#abdda4"/><text x="1412.5" y="628.1">sEndD</text>
<circle cx="1354.6" cy="664.9" r="12.4" fill="#e6f598"/><text x="1412.5" y="675">sEndF</text>
<circle cx="1354.6" cy="711.8" r="12.4" fill="#fee08b"/><text x="1412.5" y="721.9">sEndG</text>
<circle cx="1354.6" cy="758.7" r="12.4" fill="#f46d43"/><text x="1412.5" y="768.8">sF</text>
<circle cx="1354.6" cy="805.6" r="12.4" fill="#e7298a"/><text x="1412.5" y="815.7">sG</text>
</g>
</svg>
</body></html>
